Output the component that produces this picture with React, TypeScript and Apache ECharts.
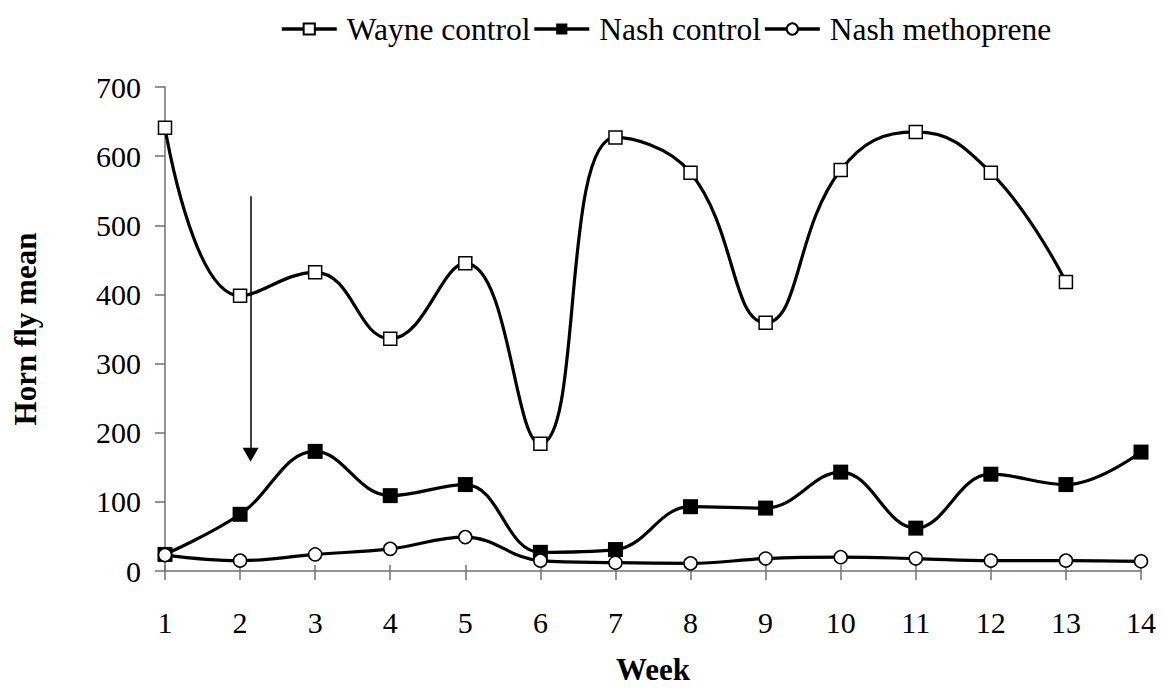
import React, { useEffect, useRef } from "react";
import * as echarts from "echarts";

const weeks = [1, 2, 3, 4, 5, 6, 7, 8, 9, 10, 11, 12, 13, 14];
const wayneControl = [641, 398, 432, 336, 445, 184, 627, 576, 359, 580, 635, 576, 418];
const nashControl = [24, 82, 173, 109, 125, 27, 31, 93, 91, 143, 62, 140, 125, 172];
const nashMethoprene = [23, 15, 24, 32, 49, 15, 12, 11, 18, 20, 18, 15, 15, 14];
const yTicks = { min: 0, max: 700, interval: 100 };
const arrowWeek = 2.14;
const arrowFrom = 542;
const arrowTo = 168;

const FONT = "Liberation Serif";
const AXIS_GRAY = "#707070";

function pairs(values: number[]) {
  return values.map((v, i) => [weeks[i], v]);
}

export default function App() {
  const ref = useRef<HTMLDivElement>(null);
  useEffect(() => {
    if (!ref.current) return;
    const chart = echarts.init(ref.current, null, { renderer: "svg" });
    const lineStyle = { color: "#000", width: 3.2 };
    chart.setOption({
      animation: false,
      backgroundColor: "#fff",
      textStyle: { fontFamily: FONT, color: "#000" },
      legend: {
        top: 8,
        left: 275,
        itemGap: 2,
        itemWidth: 55,
        itemHeight: 14,
        lineStyle: { width: 3.5, color: "#000" },
        textStyle: { fontFamily: FONT, fontSize: 31.5, color: "#000", padding: [0, 0, 0, 5] },
        data: ["Wayne control", "Nash control", "Nash methoprene"],
      },
      grid: { left: 165, right: 23, top: 87, bottom: 116, containLabel: false },
      xAxis: [
        {
          type: "value",
          min: 1,
          max: 14,
          interval: 1,
          name: "Week",
          nameLocation: "middle",
          nameGap: 83,
          nameTextStyle: { fontFamily: FONT, fontSize: 31, fontWeight: "bold", color: "#000" },
          axisLine: { show: true, onZero: true, lineStyle: { color: AXIS_GRAY, width: 1.5 } },
          axisTick: { show: true, length: 9, lineStyle: { color: AXIS_GRAY, width: 1.5 } },
          axisLabel: { margin: 36, fontSize: 30, color: "#000", fontFamily: FONT },
          splitLine: { show: false },
        },
        {
          type: "value",
          min: 1,
          max: 14,
          interval: 1,
          position: "bottom",
          axisLine: { show: false, onZero: true },
          axisTick: { show: true, inside: true, length: 6, lineStyle: { color: AXIS_GRAY, width: 1.5 } },
          axisLabel: { show: false },
          splitLine: { show: false },
        },
      ],
      yAxis: {
        type: "value",
        min: yTicks.min,
        max: yTicks.max,
        interval: yTicks.interval,
        name: "Horn fly mean",
        nameLocation: "middle",
        nameGap: 124,
        nameTextStyle: { fontFamily: FONT, fontSize: 31, fontWeight: "bold", color: "#000" },
        axisLine: { show: true, lineStyle: { color: AXIS_GRAY, width: 1.5 } },
        axisTick: { show: true, length: 10, lineStyle: { color: AXIS_GRAY, width: 1.5 } },
        axisLabel: { margin: 24, fontSize: 30, color: "#000", fontFamily: FONT },
        splitLine: { show: false },
      },
      series: [
        {
          name: "Wayne control",
          type: "line",
          data: pairs(wayneControl),
          smooth: 0.45,
          smoothConstraint: false,
          symbol: "rect",
          symbolSize: 13,
          showAllSymbol: true,
          lineStyle,
          itemStyle: { color: "#fff", borderColor: "#000", borderWidth: 1.5 },
          markLine: {
            silent: true,
            symbol: ["none", "triangle"],
            symbolSize: [16, 14],
            label: { show: false },
            lineStyle: { color: "#000", width: 1.5, type: "solid" },
            data: [
              [
                { coord: [arrowWeek, arrowFrom], symbol: "none" },
                { coord: [arrowWeek, arrowTo], symbol: "triangle" },
              ],
            ],
          },
        },
        {
          name: "Nash control",
          type: "line",
          data: pairs(nashControl),
          smooth: 0.4,
          smoothConstraint: false,
          symbol: "rect",
          symbolSize: 15,
          showAllSymbol: true,
          lineStyle,
          itemStyle: { color: "#000", borderColor: "#000", borderWidth: 0 },
        },
        {
          name: "Nash methoprene",
          type: "line",
          data: pairs(nashMethoprene),
          smooth: 0.4,
          smoothConstraint: false,
          symbol: "circle",
          symbolSize: 13,
          showAllSymbol: true,
          lineStyle,
          itemStyle: { color: "#fff", borderColor: "#000", borderWidth: 1.5 },
        },
      ],
    });
    return () => chart.dispose();
  }, []);
  return (
    <div
      ref={ref}
      style={{ position: "fixed", left: 0, top: 0, width: 1164, height: 690, background: "#fff" }}
    />
  );
}
